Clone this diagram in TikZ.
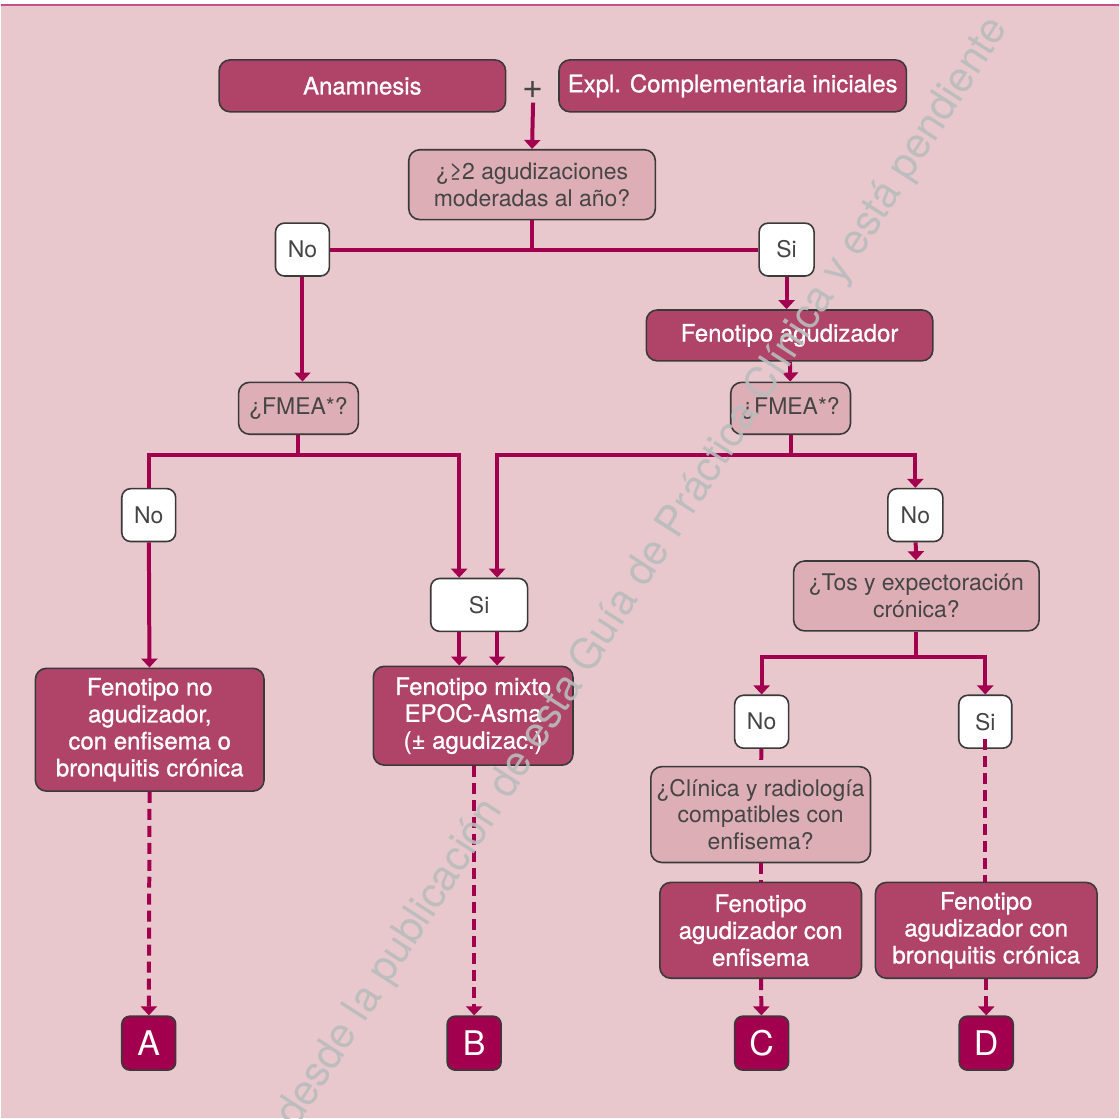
\documentclass[tikz,border=0pt]{standalone}
\usepackage{fontspec}
\setmainfont{TeX Gyre Heros}
\newfontfamily\heavyheros[FakeBold=0.9]{TeX Gyre Heros}
\usetikzlibrary{arrows.meta}
\definecolor{bgpink}{HTML}{E8C7CD}
\definecolor{roseboxfill}{HTML}{B04468}
\definecolor{askfill}{HTML}{DDAEB6}
\definecolor{wine}{HTML}{A2004F}
\definecolor{edgegray}{HTML}{3A3A3A}
\definecolor{inkgray}{HTML}{454545}
\definecolor{wmgray}{HTML}{B9BDBD}
\definecolor{topline}{HTML}{C4508A}
\begin{document}
\begin{tikzpicture}[x=1pt,y=-1pt,
  every node/.style={font=\fontsize{23}{27}\selectfont,align=center,inner sep=0pt},
  phenobox/.style={draw=edgegray,line width=1.6pt,fill=roseboxfill,text=white,
                   rounded corners=11pt,font=\heavyheros\fontsize{24}{27}\selectfont},
  askbox/.style={draw=edgegray,line width=1.6pt,fill=askfill,text=inkgray,
                 rounded corners=11pt},
  answerbox/.style={draw=edgegray,line width=1.6pt,fill=white,text=inkgray,
                    rounded corners=9pt,minimum width=54,minimum height=53},
  letterbox/.style={draw=edgegray,line width=1.6pt,fill=wine,text=white,
                    rounded corners=8pt,minimum width=54,minimum height=54,
                    font=\fontsize{34}{40}\selectfont},
  link/.style={draw=wine,line width=4pt},
  flow/.style={link,-{Triangle[width=16pt,length=9pt]}},
  dashlink/.style={link,dash pattern=on 11pt off 6pt},
  dashflow/.style={dashlink,-{Triangle[width=16pt,length=9pt]}},
  watermark/.style={text=wmgray,text opacity=0.9,
                    font=\fontsize{42}{48}\selectfont}]
% background and top rule
\fill[white] (0,0) rectangle (1120,6);
\fill[bgpink] (0,6) rectangle (1120,1120);
\draw[topline,line width=2pt] (0,5) -- (1120,5);
% start
\node[phenobox,minimum width=287,minimum height=52] (anam) at (362,86) {Anamnesis};
\node[phenobox,minimum width=348,minimum height=52] (expl) at (733,86) {Expl. Complementaria iniciales};
\node[text=inkgray,font=\fontsize{36}{40}\selectfont] (plus) at (533,90) {+};
\node[askbox,minimum width=247,minimum height=70] (exacq) at (532,185) {¿≥2 agudizaciones\\moderadas al año?};
\node[answerbox] (no1) at (302,250) {No};
\node[answerbox,minimum width=55] (si1) at (787,250) {Si};
\node[phenobox,minimum width=287,minimum height=51] (agud) at (790,336) {Fenotipo agudizador};
\node[askbox,minimum width=120,minimum height=52] (fmeaL) at (298,409) {¿FMEA*?};
\node[askbox,minimum width=120,minimum height=52] (fmeaR) at (791,409) {¿FMEA*?};
% second level
\node[answerbox] (no2) at (148,516) {No};
\node[answerbox,minimum width=97] (si2) at (479,606) {Si};
\node[answerbox,minimum width=55] (no3) at (916,516) {No};
\node[askbox,minimum width=246,minimum height=70] (tos) at (917,597) {¿Tos y expectoración\\crónica?};
\node[phenobox,minimum width=229,minimum height=123] (noagud) at (149,731)
  {Fenotipo no\\agudizador,\\con enfisema o\\bronquitis crónica};
\node[phenobox,minimum width=200,minimum height=99] (mixto) at (473,717)
  {Fenotipo mixto\\EPOC-Asma\\(± agudizac.)};
\node[answerbox] (no4) at (762,723) {No};
\node[answerbox,minimum width=53] (si4) at (986,723) {Si};
\node[askbox,minimum width=220,minimum height=96] (clin) at (761,816)
  {¿Clínica y radiología\\compatibles con\\enfisema?};
\node[phenobox,minimum width=202,minimum height=96] (enfis) at (761,932)
  {Fenotipo\\agudizador con\\enfisema};
\node[phenobox,minimum width=222,minimum height=96] (bronq) at (987,932)
  {Fenotipo\\agudizador con\\bronquitis crónica};
% outcomes
\node[letterbox] (A) at (148,1045) {A};
\node[letterbox] (B) at (474,1045) {B};
\node[letterbox] (C) at (762,1045) {C};
\node[letterbox] (D) at (987,1045) {D};
% connectors
\draw[flow] ([yshift=-4pt]plus.south) -- (exacq.north);
\draw[link] (exacq.south) -- (exacq.south |- no1);
\draw[link] (no1) -- (si1);
\draw[flow] (no1.south) -- (no1.south |- fmeaL.north);
\draw[flow] (si1.south) -- (si1.south |- agud.north);
\draw[flow] (agud) -- (fmeaR);
\draw[link] (fmeaL.south) -- ++(0,20) coordinate (barL);
\draw[link] (barL) -| (no2.north);
\draw[flow] (barL) -| ([xshift=-20pt]si2.north);
\draw[link] (fmeaR.south) -- ++(0,20) coordinate (barR);
\draw[flow] (barR) -| ([xshift=18pt]si2.north);
\draw[flow] (barR) -| (no3.north);
\draw[flow] (no2) -- (noagud);
\draw[flow] ([xshift=-20pt]si2.south) -- ([xshift=-20pt]si2.south |- mixto.north);
\draw[flow] ([xshift=18pt]si2.south) -- ([xshift=18pt]si2.south |- mixto.north);
\draw[flow] (no3) -- (tos);
\draw[link] (tos.south) -- ++(0,25) coordinate (barT);
\draw[flow] (barT) -| (no4.north);
\draw[flow] (barT) -| (si4.north);
\draw[dashflow] (noagud) -- (A);
\draw[dashflow] (mixto.south -| B) -- (B);
\draw[dashlink] (no4) -- (clin);
\draw[dashlink] (clin) -- (enfis);
\draw[dashlink] ([yshift=10pt]si4.south) -- (si4 |- bronq.north);
\draw[dashflow] (enfis) -- (C);
\draw[dashflow] (bronq) -- (D);
% watermark
\begin{scope}
\clip (0,6) rectangle (1120,1120);
\node[watermark,anchor=base west,rotate=57.1] (wm) at (296,1131)
  {desde la publicación de esta Guía de Práctica Clínica y está pendiente};
\end{scope}
\useasboundingbox (0,0) rectangle (1120,1120);
\end{tikzpicture}
\end{document}
